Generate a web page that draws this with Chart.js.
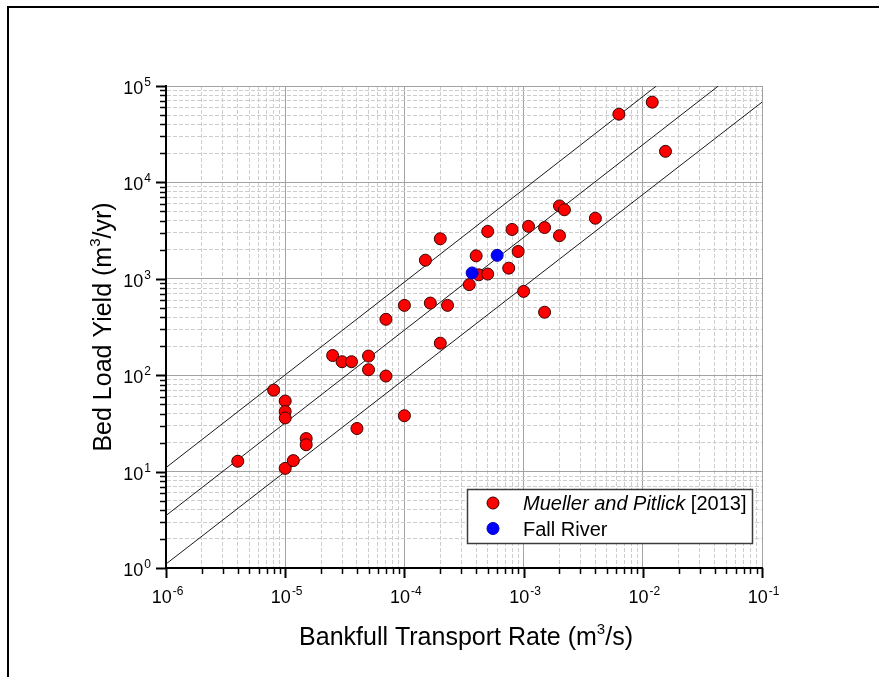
<!DOCTYPE html>
<html>
<head>
<meta charset="utf-8">
<script src="https://cdn.jsdelivr.net/npm/chart.js@4.4.1/dist/chart.umd.min.js"></script>
<style>
  html, body { margin: 0; padding: 0; background: #fff; }
  canvas { display: block; }
</style>
</head>
<body>
<canvas id="yieldChart" width="879" height="677"></canvas>
<script>
/* ---------- data ---------- */
// Mueller and Pitlick [2013]
const muellerQ = [4e-6, 8e-6, 1e-5, 1e-5, 1e-5, 1e-5, 1.17e-5, 1.5e-5, 1.5e-5,
  2.5e-5, 3e-5, 3.6e-5, 4e-5, 5e-5, 5e-5, 7e-5, 7e-5, 1e-4, 1e-4,
  1.5e-4, 1.65e-4, 2e-4, 2e-4, 2.3e-4, 3.5e-4, 4e-4, 4.2e-4, 5e-4, 5e-4,
  7.5e-4, 8e-4, 9e-4, 1e-3, 1.1e-3, 1.5e-3, 1.5e-3, 2e-3, 2.2e-3, 2e-3,
  4e-3, 6.3e-3, 1.2e-2, 1.55e-2];
const muellerYield = [12.8, 70, 54, 42, 36, 10.8, 13, 22, 19,
  160, 138, 138, 28, 158, 114, 98, 380, 530, 38,
  1560, 560, 2600, 215, 530, 870, 1730, 1100, 1120, 3100,
  1290, 3250, 1920, 740, 3500, 3400, 450, 5700, 5200, 2800,
  4250, 51000, 68000, 21000];

// Fall River
const fallQ = [3.7e-4, 6e-4];
const fallYield = [1150, 1750];

// reference lines (end points)
const upperLineQ = [1e-6, 1.3e-2];
const upperLineY = [11, 1e5];
const midLineQ = [1e-6, 4.3e-2];
const midLineY = [3.5, 1e5];
const lowerLineQ = [1e-6, 1e-1];
const lowerLineY = [1.1, 68000];

// axes
const xDecades = [-6, -5, -4, -3, -2, -1];
const yDecades = [0, 1, 2, 3, 4, 5];
const minorSteps = [2, 3, 4, 5, 6, 7, 8, 9];

const xTitle = ['Bankfull Transport Rate (m', '3', '/s)'];
const yTitle = ['Bed Load Yield (m', '3', '/yr)'];
const legendRows = [
  { italic: 'Mueller and Pitlick', plain: ' [2013]', fill: '#ff0000', stroke: '#3a0000' },
  { italic: '', plain: 'Fall River', fill: '#0000ff', stroke: '#0000c0' }
];

const FONT = '"Liberation Sans", Arial, sans-serif';

/* ---------- helpers ---------- */
function toPoints(xs, ys) {
  return xs.map((x, i) => ({ x: x, y: ys[i] }));
}

function logTicks(decades) {
  const out = [];
  decades.forEach((e, i) => {
    out.push({ value: Math.pow(10, e), major: true, exp: e });
    if (i < decades.length - 1) {
      minorSteps.forEach(m => out.push({ value: m * Math.pow(10, e), major: false }));
    }
  });
  return out;
}

const gridColor = ctx => (ctx.tick && ctx.tick.major) ? '#a3a3a3' : '#cdcdcd';
const gridDash = ctx => (ctx.tick && !ctx.tick.major) ? [4, 2] : [];

// text "10" with a raised exponent
function powerLabelWidth(ctx, exp) {
  ctx.font = '18px ' + FONT;
  const w1 = ctx.measureText('10').width;
  ctx.font = '12px ' + FONT;
  const w2 = ctx.measureText(String(exp)).width;
  return { w1, w2, total: w1 + 1 + w2 };
}

function drawPower(ctx, exp, x, baseline) {
  const m = powerLabelWidth(ctx, exp);
  ctx.textAlign = 'left';
  ctx.textBaseline = 'alphabetic';
  ctx.font = '18px ' + FONT;
  ctx.fillText('10', x, baseline);
  ctx.font = '12px ' + FONT;
  ctx.fillText(String(exp), x + m.w1 + 1, baseline - 8);
}

// text with one superscript part, centred on the origin
function drawSupText(ctx, parts, size, supSize) {
  ctx.font = size + 'px ' + FONT;
  const a = ctx.measureText(parts[0]).width;
  const c = ctx.measureText(parts[2]).width;
  ctx.font = supSize + 'px ' + FONT;
  const b = ctx.measureText(parts[1]).width;
  let x = -(a + b + c) / 2;
  ctx.textAlign = 'left';
  ctx.textBaseline = 'alphabetic';
  ctx.font = size + 'px ' + FONT;
  ctx.fillText(parts[0], x, 0);
  x += a;
  ctx.font = supSize + 'px ' + FONT;
  ctx.fillText(parts[1], x, -size * 0.45);
  x += b;
  ctx.font = size + 'px ' + FONT;
  ctx.fillText(parts[2], x, 0);
}

/* ---------- decorations: ticks, labels, titles, legend, frame ---------- */
const decorPlugin = {
  id: 'decor',
  afterDraw(chart) {
    const ctx = chart.ctx;
    const xs = chart.scales.x;
    const ys = chart.scales.y;
    const area = chart.chartArea;
    ctx.save();
    ctx.fillStyle = '#000';
    ctx.strokeStyle = '#000';

    // outward tick marks
    xs.ticks.forEach(t => {
      const px = Math.round(xs.getPixelForValue(t.value)) + 0.5;
      ctx.lineWidth = t.major ? 2 : 1.5;
      ctx.beginPath();
      ctx.moveTo(px, area.bottom);
      ctx.lineTo(px, area.bottom + (t.major ? 10 : 6));
      ctx.stroke();
    });
    ys.ticks.forEach(t => {
      const py = Math.round(ys.getPixelForValue(t.value)) + 0.5;
      ctx.lineWidth = t.major ? 2 : 1.5;
      ctx.beginPath();
      ctx.moveTo(area.left, py);
      ctx.lineTo(area.left - (t.major ? 10 : 6), py);
      ctx.stroke();
    });

    // tick labels
    xs.ticks.filter(t => t.major).forEach(t => {
      const px = xs.getPixelForValue(t.value);
      const m = powerLabelWidth(ctx, t.exp);
      drawPower(ctx, t.exp, px - m.total / 2 + 1.5, area.bottom + 35);
    });
    ys.ticks.filter(t => t.major).forEach(t => {
      const py = ys.getPixelForValue(t.value);
      const m = powerLabelWidth(ctx, t.exp);
      drawPower(ctx, t.exp, area.left - 15 - m.total, py + 8);
    });

    // axis titles
    ctx.save();
    ctx.translate((area.left + area.right) / 2 + 2, 645);
    drawSupText(ctx, xTitle, 25, 15);
    ctx.restore();

    ctx.save();
    ctx.translate(111, (area.top + area.bottom) / 2);
    ctx.rotate(-Math.PI / 2);
    drawSupText(ctx, yTitle, 25, 15);
    ctx.restore();

    // legend
    const box = { x: 467.5, y: 489.5, w: 285, h: 54 };
    ctx.fillStyle = '#fff';
    ctx.fillRect(box.x, box.y, box.w, box.h);
    ctx.strokeStyle = '#3c3c3c';
    ctx.lineWidth = 1.5;
    ctx.strokeRect(box.x, box.y, box.w, box.h);
    legendRows.forEach((row, i) => {
      const cy = 503 + i * 25.5;
      ctx.beginPath();
      ctx.arc(493, cy, 6, 0, Math.PI * 2);
      ctx.fillStyle = row.fill;
      ctx.fill();
      ctx.lineWidth = 1;
      ctx.strokeStyle = row.stroke;
      ctx.stroke();
      ctx.fillStyle = '#000';
      ctx.textAlign = 'left';
      ctx.textBaseline = 'alphabetic';
      let tx = 523;
      if (row.italic) {
        ctx.font = 'italic 20px ' + FONT;
        ctx.fillText(row.italic, tx, cy + 7);
        tx += ctx.measureText(row.italic).width;
      }
      ctx.font = '20px ' + FONT;
      ctx.fillText(row.plain, tx, cy + 7);
    });

    // outer frame
    ctx.strokeStyle = '#000';
    ctx.lineWidth = 2;
    ctx.beginPath();
    ctx.moveTo(8, 677);
    ctx.lineTo(8, 7);
    ctx.lineTo(879, 7);
    ctx.stroke();

    ctx.restore();
  }
};

/* ---------- chart ---------- */
const ctx = document.getElementById('yieldChart').getContext('2d');
const chart = new Chart(ctx, {
  type: 'scatter',
  data: {
    datasets: [
      {
        label: 'Fall River',
        data: toPoints(fallQ, fallYield),
        backgroundColor: '#0000ff',
        borderColor: '#0000c0',
        borderWidth: 1,
        pointRadius: 6,
        order: 0
      },
      {
        label: 'Mueller and Pitlick [2013]',
        data: toPoints(muellerQ, muellerYield),
        backgroundColor: '#ff0000',
        borderColor: '#3a0000',
        borderWidth: 1,
        pointRadius: 6,
        order: 1
      },
      {
        label: 'upper',
        data: toPoints(upperLineQ, upperLineY),
        showLine: true,
        borderColor: '#1a1a1a',
        borderWidth: 1,
        pointRadius: 0,
        order: 2
      },
      {
        label: 'middle',
        data: toPoints(midLineQ, midLineY),
        showLine: true,
        borderColor: '#1a1a1a',
        borderWidth: 1,
        pointRadius: 0,
        order: 2
      },
      {
        label: 'lower',
        data: toPoints(lowerLineQ, lowerLineY),
        showLine: true,
        borderColor: '#1a1a1a',
        borderWidth: 1,
        pointRadius: 0,
        order: 2
      }
    ]
  },
  options: {
    responsive: false,
    animation: false,
    devicePixelRatio: 1,
    layout: { padding: { left: 166, top: 86, right: 117, bottom: 109 } },
    plugins: {
      legend: { display: false },
      tooltip: { enabled: false }
    },
    scales: {
      x: {
        type: 'logarithmic',
        min: Math.pow(10, xDecades[0]),
        max: Math.pow(10, xDecades[xDecades.length - 1]),
        afterBuildTicks: s => { s.ticks = logTicks(xDecades); },
        afterFit: s => { s.height = 0; },
        ticks: { display: false, autoSkip: false },
        grid: { color: gridColor, lineWidth: 1, drawTicks: false },
        border: { display: true, color: '#000', width: 2, dash: gridDash },
        title: { display: false }
      },
      y: {
        type: 'logarithmic',
        min: Math.pow(10, yDecades[0]),
        max: Math.pow(10, yDecades[yDecades.length - 1]),
        afterBuildTicks: s => { s.ticks = logTicks(yDecades); },
        afterFit: s => { s.width = 0; },
        ticks: { display: false, autoSkip: false },
        grid: { color: gridColor, lineWidth: 1, drawTicks: false },
        border: { display: true, color: '#000', width: 2, dash: gridDash },
        title: { display: false }
      }
    }
  },
  plugins: [decorPlugin]
});
</script>
</body>
</html>
